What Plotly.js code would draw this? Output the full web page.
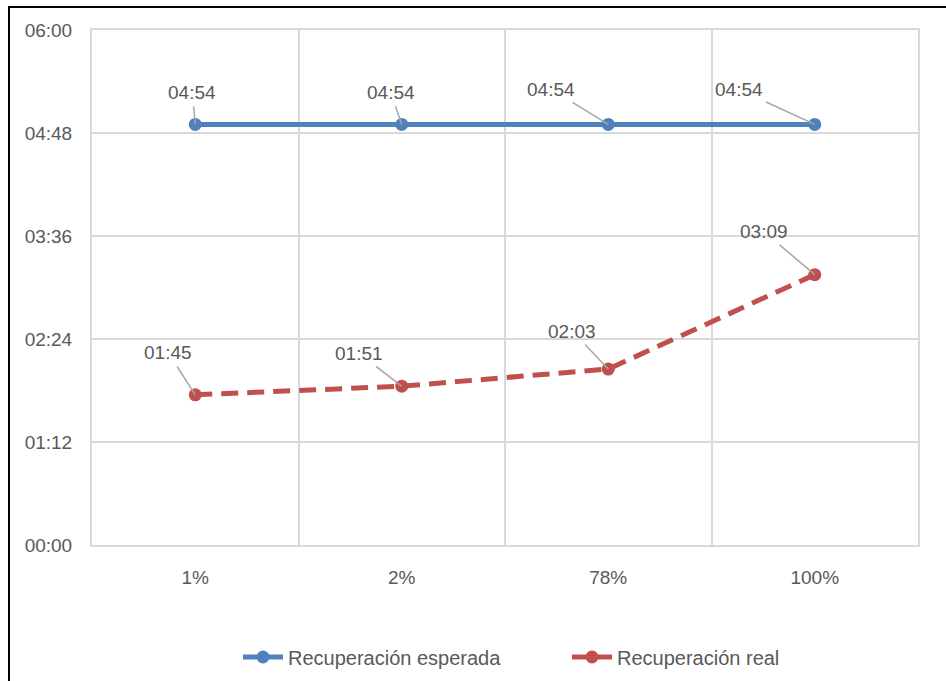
<!DOCTYPE html>
<html>
<head>
<meta charset="utf-8">
<script src="https://cdn.plot.ly/plotly-3.0.1.min.js"></script>
<style>
  html, body { margin: 0; padding: 0; background: #fff; }
  #wrap { position: relative; width: 946px; height: 681px; }
  #chart { position: absolute; left: 0; top: 0; width: 946px; height: 681px; }
  #frame { position: absolute; left: 8px; top: 6px; width: 938px; height: 675px;
           border-top: 2px solid #000; border-left: 2px solid #000; box-sizing: border-box;
           pointer-events: none; }
</style>
</head>
<body>
<div id="wrap">
  <div id="chart"></div>
  <div id="frame"></div>
</div>
<script>
// Data (values in minutes; labels shown as HH:MM)
const categories = ['1%', '2%', '78%', '100%'];
const esperada = [294, 294, 294, 294];      // 04:54
const real = [105, 111, 123, 189];          // 01:45, 01:51, 02:03, 03:09
const yTickVals = [0, 72, 144, 216, 288, 360];
const yTickText = ['00:00', '01:12', '02:24', '03:36', '04:48', '06:00'];
const seriesNames = ['Recuperación esperada', 'Recuperación real'];

// label offsets (pixels) for data labels with leader lines
const espOffsets = [[-3, -32], [-11, -32], [-57, -35], [-76, -35]];
const realOffsets = [[-27, -42], [-43, -33], [-36, -38], [-51, -43]];

function fmt(m) {
  const h = Math.floor(m / 60), mm = m % 60;
  return String(h).padStart(2, '0') + ':' + String(mm).padStart(2, '0');
}

const FONT = 'Liberation Sans, Arial, sans-serif';
const TXT = '#595959';
const BLUE = '#4F81BD';
const RED = '#C0504D';
const GRID = '#d9d9d9';

const xIdx = categories.map((c, i) => i);

const traces = [
  {
    type: 'scatter', x: [], y: [], xaxis: 'x2', yaxis: 'y', showlegend: false, hoverinfo: 'skip'
  },
  {
    type: 'scatter', mode: 'lines+markers', name: seriesNames[0],
    x: xIdx, y: esperada,
    line: { color: BLUE, width: 5 },
    marker: { color: BLUE, size: 13 },
    hoverinfo: 'skip'
  },
  {
    type: 'scatter', mode: 'lines+markers', name: seriesNames[1],
    x: xIdx, y: real,
    line: { color: RED, width: 5, dash: '17px,9px' },
    marker: { color: RED, size: 13 },
    hoverinfo: 'skip'
  }
];

const annotations = [];
function addLabels(vals, offs) {
  vals.forEach((v, i) => {
    annotations.push({
      x: i, y: v, xref: 'x', yref: 'y',
      text: fmt(v), showarrow: true, arrowhead: 0, arrowwidth: 1.5,
      arrowcolor: '#a6a6a6', ax: offs[i][0], ay: offs[i][1], standoff: 0,
      startstandoff: 2,
      font: { family: FONT, size: 19, color: TXT }
    });
  });
}
addLabels(esperada, espOffsets);
addLabels(real, realOffsets);

const layout = {
  width: 946, height: 681,
  margin: { l: 92, r: 28, t: 30, b: 136 },
  paper_bgcolor: '#fff', plot_bgcolor: '#fff',
  font: { family: FONT, size: 19, color: TXT },
  showlegend: true,
  legend: {
    orientation: 'h', xref: 'container', yref: 'container',
    x: 238 / 946, xanchor: 'left', y: 1 - 657 / 681, yanchor: 'middle',
    font: { family: FONT, size: 20, color: TXT }, itemwidth: 40,
    entrywidth: 274, entrywidthmode: 'pixels', traceorder: 'normal'
  },
  xaxis: {
    type: 'linear', range: [-0.5, 3.5],
    tickvals: xIdx, ticktext: categories,
    showgrid: false, zeroline: false,
    showline: true, mirror: true, linecolor: GRID, linewidth: 2,
    ticks: 'outside', ticklen: 14, tickcolor: 'rgba(0,0,0,0)',
    tickfont: { family: FONT, size: 19, color: TXT },
    fixedrange: true
  },
  xaxis2: {
    overlaying: 'x', range: [-0.5, 3.5], tickvals: [-0.5, 0.5, 1.5, 2.5, 3.5],
    showticklabels: false, showgrid: true, gridcolor: GRID, gridwidth: 2,
    zeroline: false, ticks: ''
  },
  yaxis: {
    range: [0, 360], tickvals: yTickVals, ticktext: yTickText,
    showgrid: true, gridcolor: GRID, gridwidth: 2, zeroline: false,
    showline: true, mirror: true, linecolor: GRID, linewidth: 2,
    ticks: 'outside', ticklen: 14, tickcolor: 'rgba(0,0,0,0)',
    tickfont: { family: FONT, size: 19, color: TXT },
    fixedrange: true
  },
  annotations: annotations
};

Plotly.newPlot('chart', traces, layout, { displayModeBar: false, staticPlot: true });
</script>
</body>
</html>
